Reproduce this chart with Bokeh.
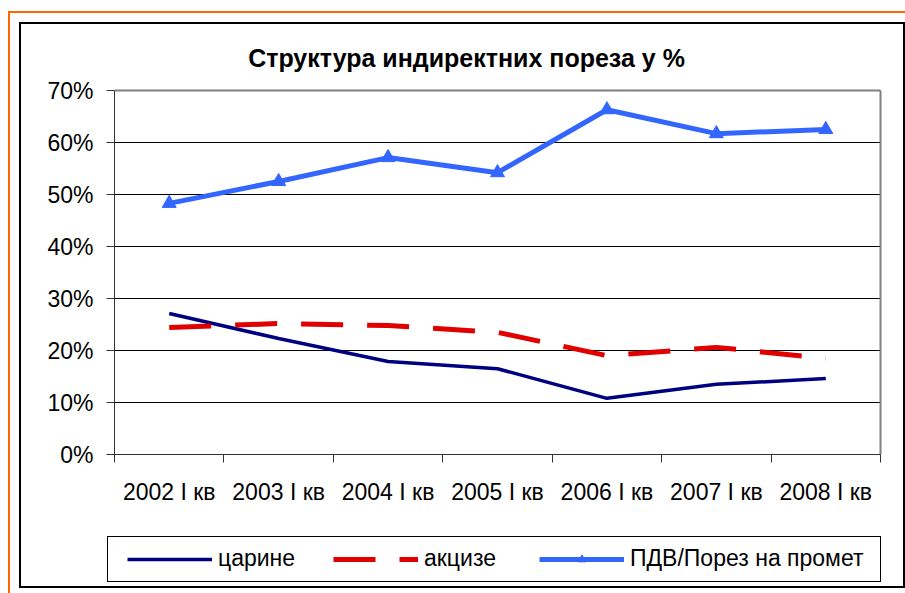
from bokeh.plotting import figure
from bokeh.models import FixedTicker, Legend, LegendItem, Range1d, Label
from bokeh.embed import file_html
from bokeh.resources import INLINE

# ---- data ----
categories = ["2002 I кв", "2003 I кв", "2004 I кв", "2005 I кв",
              "2006 I кв", "2007 I кв", "2008 I кв"]
carine = [27.1, 22.3, 17.9, 16.5, 10.8, 13.5, 14.6]
akcize = [24.4, 25.2, 24.8, 23.5, 19.0, 20.6, 18.5]
pdv = [48.3, 52.5, 57.1, 54.2, 66.3, 61.7, 62.5]
series_names = ["царине", "акцизе", "ПДВ/Порез на промет"]
y_ticks = [0, 10, 20, 30, 40, 50, 60, 70]
y_tick_labels = ["0%", "10%", "20%", "30%", "40%", "50%", "60%", "70%"]
title_text = "Структура индиректних пореза у %"

FONT = "Liberation Sans"

# ---- layout geometry (pixels) ----
W, H = 905, 593
PL, PR, PT, PB = 114, 880, 90, 454      # plot-area edges
n = len(categories)
x = [i + 0.5 for i in range(n)]
ymin, ymax = y_ticks[0], y_ticks[-1]
sx = n / (PR - PL)
sy = (ymax - ymin) / (PB - PT)


def bar(color, left, top, w, h):
    return f"linear-gradient({color},{color}) {left}px {top}px / {w}px {h}px no-repeat"


# decorative frames painted behind the transparent canvas
frame_bg = ", ".join([
    bar("#FF6600", 9, 11, 896, 2),
    bar("#FF6600", 8, 11, 2, 582),
    bar("#000000", 19, 22, 886, 2),
    bar("#000000", 19, 22, 2, 566),
    bar("#000000", 19, 586, 886, 2),
    bar("#000000", 903, 22, 2, 566),
    bar("#000000", 107, 536, 774, 1),
    bar("#000000", 107, 581, 774, 1),
    bar("#000000", 107, 536, 1, 46),
    bar("#000000", 880, 536, 1, 46),
]) + ", white"

p = figure(width=W, height=H, output_backend="svg", toolbar_location=None,
           x_range=Range1d(-PL * sx, n + (W - PR) * sx),
           y_range=Range1d(ymin - (H - PB) * sy, ymax + PT * sy),
           min_border=0, min_border_left=0, min_border_right=0,
           min_border_top=0, min_border_bottom=0)
p.title.text = ""
p.title.visible = False
p.styles = {"background": frame_bg}
p.background_fill_color = None
p.border_fill_color = None
p.outline_line_color = None

# y axis (placed at x = 0 inside the canvas)
p.yaxis.fixed_location = 0
p.yaxis.bounds = (ymin, ymax)
p.yaxis.ticker = FixedTicker(ticks=y_ticks)
p.yaxis.major_label_overrides = dict(zip(y_ticks, y_tick_labels))
p.yaxis.major_tick_out = 8
p.yaxis.major_tick_in = 0
p.yaxis.minor_tick_line_color = None
p.yaxis.axis_line_color = "#333333"
p.yaxis.major_tick_line_color = "#333333"
p.yaxis.major_label_text_font = FONT
p.yaxis.major_label_text_font_size = "23px"
p.yaxis.major_label_text_color = "black"
p.yaxis.major_label_standoff = 13

# x axis (placed at y = 0)
p.xaxis.fixed_location = 0
p.xaxis.bounds = (0, n)
p.xaxis.ticker = FixedTicker(ticks=x, minor_ticks=list(range(n + 1)))
p.xaxis.major_label_overrides = dict(zip(x, categories))
p.xaxis.major_tick_line_color = None
p.xaxis.major_tick_out = 0
p.xaxis.major_tick_in = 0
p.xaxis.minor_tick_out = 8
p.xaxis.minor_tick_in = 0
p.xaxis.minor_tick_line_color = "#333333"
p.xaxis.axis_line_color = "#333333"
p.xaxis.major_label_text_font = FONT
p.xaxis.major_label_text_font_size = "23px"
p.xaxis.major_label_text_color = "black"
p.xaxis.major_label_standoff = 16

p.xgrid.visible = False
p.ygrid.visible = False

# gridlines and plot-area border
grid_y = y_ticks[1:-1]
p.segment(x0=[0] * len(grid_y), x1=[n] * len(grid_y), y0=grid_y, y1=grid_y,
          line_color="black", line_width=1)
p.segment(x0=[0, n], x1=[n, n], y0=[ymax, ymin], y1=[ymax, ymax],
          line_color="#808080", line_width=2)

# series
r1 = p.line(x, carine, line_color="#000080", line_width=3.5)
r2 = p.line(x, akcize, line_color="#E00000", line_width=5, line_dash="42 24")
r3 = p.line(x, pdv, line_color="#3366FF", line_width=5)
r3m = p.scatter(x, pdv, marker="triangle", size=14, fill_color="#3366FF",
                line_color="#3366FF")

legend = Legend(items=[LegendItem(label=series_names[0], renderers=[r1]),
                       LegendItem(label=series_names[1], renderers=[r2]),
                       LegendItem(label=series_names[2], renderers=[r3, r3m])],
                orientation="horizontal", location=(127, 21),
                glyph_width=85, glyph_height=20, label_width=82, label_standoff=6,
                spacing=33, padding=0, margin=0,
                border_line_color=None, background_fill_color=None,
                label_text_font=FONT, label_text_font_size="23px",
                label_text_color="black")
p.add_layout(legend)

# chart title
p.add_layout(Label(x=(466 - PL) * sx, y=ymax + (PT - 57) * sy, text=title_text,
                   text_align="center", text_baseline="middle",
                   text_font=FONT, text_font_size="25px", text_font_style="bold",
                   text_color="black"))

open("out.html", "w").write(file_html(p, INLINE))
